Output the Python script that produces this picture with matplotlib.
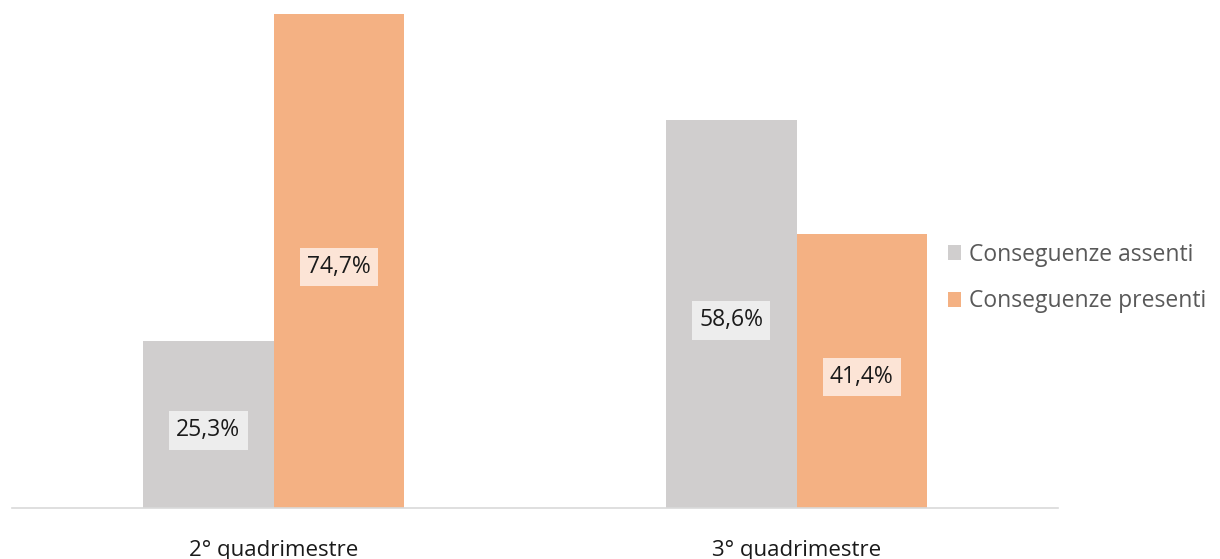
import matplotlib.pyplot as plt
import numpy as np

# dati
categorie = ["2° quadrimestre", "3° quadrimestre"]
assenti = [25.3, 58.6]
presenti = [74.7, 41.4]
serie = ["Conseguenze assenti", "Conseguenze presenti"]

plt.rcParams['font.family'] = ['Open Sans', 'DejaVu Sans']

fig = plt.figure(figsize=(12.2, 5.59), dpi=100)
ax = fig.add_axes([12/1220, 51/559, 1046/1220, 494/559])

x = np.arange(len(categorie))
w = 0.25
b1 = ax.bar(x - w/2, assenti, w, color="#D0CECE", label=serie[0])
b2 = ax.bar(x + w/2, presenti, w, color="#F4B183", label=serie[1])

# etichette dentro le barre (leggermente sotto il centro, come nell'originale)
for bars, vals, bg in [(b1, assenti, "#EDEDED"), (b2, presenti, "#FCE4D6")]:
    for r, v in zip(bars, vals):
        ax.annotate(("%.1f%%" % v).replace(".", ","), (r.get_x() + r.get_width()/2, v/2),
                    xytext=(0, -3), textcoords="offset pixels",
                    ha="center", va="center_baseline", fontsize=16.5, color="#1a1a1a",
                    bbox=dict(boxstyle="square,pad=0.32", fc=bg, ec="none"))

ax.set_xlim(-0.5, 1.5)
ax.set_ylim(0, 74.7)
ax.set_xticks(x)
ax.set_xticklabels(categorie, fontsize=16, color="#1a1a1a")
ax.tick_params(axis="x", length=0, pad=23)
ax.set_yticks([])
for s in ["top", "left", "right"]:
    ax.spines[s].set_visible(False)
ax.spines["bottom"].set_color("#D9D9D9")
ax.spines["bottom"].set_linewidth(1.2)

leg = fig.legend(loc="center left", bbox_to_anchor=(927/1220, 1 - 278/559), frameon=False,
                 fontsize=16.5, handlelength=0.6, handleheight=0.6, handletextpad=0.35,
                 labelspacing=1.0)
for t in leg.get_texts():
    t.set_color("#595959")

plt.savefig("out.png", dpi=100)
